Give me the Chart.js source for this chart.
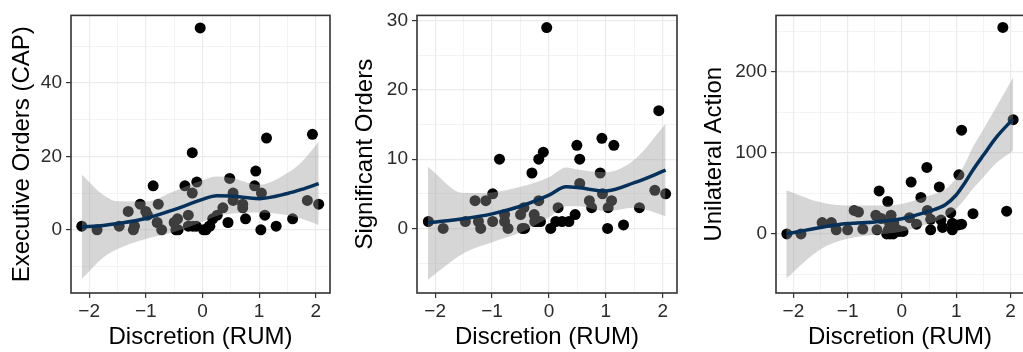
<!doctype html>
<html>
<head>
<title>Discretion (RUM)</title>
<script src="https://cdn.jsdelivr.net/npm/chart.js"></script>
<style>
  body { margin: 0; background: #fff; overflow: hidden; }
  .panel { position: absolute; top: 0; height: 352px; }
</style>
</head>
<body>

<div class="panel" style="left:0px; width:336px;"><canvas id="eo"></canvas></div>
<div class="panel" style="left:338px; width:345px;"><canvas id="so"></canvas></div>
<div class="panel" style="left:690px; width:340px;"><canvas id="ua"></canvas></div>

<script>
// shared x axis
const rumTicks = [-2, -1.5, -1, -0.5, 0, 0.5, 1, 1.5, 2];
const rumLabels = [-2, -1, 0, 1, 2];

// Executive Orders (CAP)
const eoRum = [-2.13, -1.86, -1.47, -1.31, -1.22, -1.2, -1.1, -1.0, -0.97, -0.87, -0.78, -0.8, -0.72,
  -0.5, -0.44, -0.47, -0.43, -0.31, -0.25, -0.25, -0.18, -0.18, -0.17, -0.11, -0.1, -0.04,
  0.02, 0.06, 0.12, 0.13, 0.18, 0.26, 0.36, 0.45, 0.48, 0.54, 0.54, 0.71, 0.71, 0.76,
  0.92, 0.94, 1.04, 1.03, 1.1, 1.13, 1.3, 1.59, 1.85, 1.94, 2.05];
const eoCount = [1, 0, 1, 5, 0, 1, 7, 5, 4, 12, 7, 2, 0,
  2, 3, 0, 0, 12, 4, 1, 10, 21, 1, 1, 13, 55,
  0, 0, 1, 1, 3, 4, 6, 2, 14, 10, 8, 7, 6, 3,
  12, 16, 10, 0, 4, 25, 1, 3, 8, 26, 7];
const eoFitX = [-2.13, -1.75, -1.5, -1, -0.5, 0, 0.25, 0.5, 1, 1.5, 1.75, 2.05];
const eoFit = [0.8, 1.2, 1.7, 3.1, 5.5, 8.3, 9.3, 9.2, 8.5, 9.9, 11, 12.6];
const eoUpper = [15, 9.5, 7.8, 7.7, 10.5, 13.5, 14.5, 14.2, 12.3, 15.5, 18.5, 24];
const eoLower = [-13.4, -7.5, -5.2, -2.5, -0.6, 2.2, 3.8, 4.4, 4.7, 4, 3, 1.3];
const eoTicks = [-10, 0, 10, 20, 30, 40, 50];
const eoLabels = [0, 20, 40];

// Significant Orders
const soRum = [-2.12, -1.86, -1.47, -1.3, -1.24, -1.2, -1.11, -0.99, -0.99, -0.87, -0.78, -0.78, -0.72,
  -0.5, -0.44, -0.47, -0.43, -0.3, -0.26, -0.18, -0.18, -0.1, -0.25, -0.2, -0.15, -0.04,
  0.03, 0.12, 0.16, 0.23, 0.35, 0.46, 0.49, 0.54, 0.54, 0.71, 0.75, 0.9, 0.93, 0.94,
  1.04, 1.03, 1.1, 1.14, 1.31, 1.59, 1.86, 1.93, 2.05];
const soCount = [1, 0, 1, 4, 1, 0, 4, 5, 1, 10, 1, 2, 0,
  2, 3, 0, 0, 8, 2, 4, 10, 11, 1, 1, 1, 29,
  0, 1, 3, 1, 1, 2, 12, 10, 6.5, 4, 3, 8, 13, 5,
  3, 0, 4, 12, 0.5, 3, 5.5, 17, 5];
const soFitX = [-2.13, -1.5, -1, -0.5, 0, 0.3, 0.5, 1, 1.5, 2.05];
const soFit = [0.8, 1.4, 2.1, 3.2, 4.8, 6.0, 5.9, 5.4, 6.6, 8.4];
const soUpper = [8.9, 5.1, 5.2, 6.0, 7.4, 8.8, 8.5, 8.1, 9.9, 15.1];
const soLower = [-7.4, -3.6, -2.0, -0.6, 1.6, 3.2, 3.2, 2.5, 3.0, 1.8];
const soTicks = [-5, 0, 5, 10, 15, 20, 25, 30];
const soLabels = [0, 10, 20, 30];

// Unilateral Action
const uaRum = [-2.12, -1.86, -1.47, -1.3, -1.21, -1.0, -0.88, -0.8, -0.72, -0.48, -0.46, -0.42, -0.38,
  -0.26, -0.22, -0.28, -0.16, -0.2, -0.23, -0.15, -0.25, -0.08, -0.05, 0.02, 0.17, 0.14,
  0.27, 0.35, 0.46, 0.47, 0.53, 0.53, 0.69, 0.72, 0.75, 0.9, 0.93, 0.93, 1.05, 1.04,
  1.1, 1.1, 1.31, 1.86, 1.93, 2.05];
const uaCount = [0, 0, 14, 14, 5, 5, 29, 27, 6, 23, 5, 53, 19,
  40, 0, 0, 0, 23, 14, 14, 5, 5, 3, 3, 64, 20,
  12, 45, 82, 29, 5, 18, 58, 17, 8, 26, 13, 5, 73, 11,
  12, 128, 25, 255, 28, 141];
const uaFitX = [-2.13, -1.5, -1, -0.5, 0, 0.5, 0.8, 1, 1.15, 1.3, 1.5, 1.75, 2.05];
const uaFit = [0, 8, 12.8, 14.8, 18.8, 28, 36, 48, 62, 78, 97, 120, 142];
const uaUpper = [54, 39, 35, 35, 37, 47, 55, 69, 85, 106, 129, 158, 193];
const uaLower = [-55, -19, -6, -1.2, 2.8, 12.8, 21, 31, 42, 55, 70, 88, 103];
const uaTicks = [-50, 0, 50, 100, 150, 200, 250];
const uaLabels = [0, 100, 200];

Chart.defaults.font.family = "'Liberation Sans', Arial, sans-serif";

function pts(xs, ys) {
  return xs.map((x, i) => ({ x: x, y: ys[i] }));
}

function minus(v) {
  return String(v).replace('-', '\u2212');
}

const panelBorder = {
  id: 'panelBorder',
  afterDraw(chart) {
    const a = chart.chartArea, ctx = chart.ctx;
    ctx.save();
    ctx.strokeStyle = '#333333';
    ctx.lineWidth = 1.6;
    ctx.strokeRect(a.left, a.top, a.right - a.left, a.bottom - a.top);
    ctx.restore();
  }
};

function makePanel(id, p) {
  new Chart(document.getElementById(id), {
    type: 'scatter',
    data: {
      datasets: [
        {
          data: pts(p.fitX, p.fit),
          showLine: true,
          borderColor: '#06315A',
          borderWidth: 3.5,
          pointRadius: 0,
          cubicInterpolationMode: 'monotone',
          order: 0
        },
        {
          // ribbon drawn over the points, like ggplot
          data: pts(p.fitX, p.upper),
          showLine: true,
          borderWidth: 0,
          borderColor: 'rgba(0,0,0,0)',
          backgroundColor: 'rgba(153,153,153,0.4)',
          fill: '+1',
          pointRadius: 0,
          cubicInterpolationMode: 'monotone',
          order: 1
        },
        {
          data: pts(p.fitX, p.lower),
          showLine: true,
          borderWidth: 0,
          borderColor: 'rgba(0,0,0,0)',
          pointRadius: 0,
          cubicInterpolationMode: 'monotone',
          order: 2
        },
        {
          data: pts(p.x, p.y),
          pointRadius: 5.5,
          pointBackgroundColor: '#000',
          pointBorderWidth: 0,
          order: 3
        }
      ]
    },
    options: {
      responsive: true,
      maintainAspectRatio: false,
      animation: false,
      events: [],
      layout: { padding: { top: 8, right: 6, left: 0, bottom: 0 } },
      plugins: {
        legend: { display: false },
        tooltip: { enabled: false },
        filler: { drawTime: 'beforeDatasetDraw' }
      },
      scales: {
        x: {
          type: 'linear',
          min: -2.32,
          max: 2.25,
          afterBuildTicks: (s) => { s.ticks = rumTicks.map(v => ({ value: v })); },
          afterFit: (s) => { s.height = 59; },
          border: { display: false },
          grid: {
            color: '#EBEBEB',
            lineWidth: (c) => rumLabels.includes(c.tick.value) ? 1.2 : 0.6,
            tickColor: (c) => rumLabels.includes(c.tick.value) ? '#333333' : 'rgba(0,0,0,0)',
            tickLength: 5,
            tickWidth: 1.2
          },
          ticks: {
            autoSkip: false,
            maxRotation: 0,
            padding: 2,
            color: '#2b2b2b',
            font: { size: 19 },
            callback: (v) => rumLabels.includes(v) ? minus(v) : ''
          },
          title: {
            display: true,
            text: 'Discretion (RUM)',
            color: '#000',
            font: { size: 24 },
            padding: { top: 0, bottom: 0 }
          }
        },
        y: {
          min: p.min,
          max: p.max,
          afterBuildTicks: (s) => { s.ticks = p.ticks.map(v => ({ value: v })); },
          afterFit: (s) => { s.width = p.axisWidth; },
          border: { display: false },
          grid: {
            color: '#EBEBEB',
            lineWidth: (c) => p.labels.includes(c.tick.value) ? 1.2 : 0.6,
            tickColor: (c) => p.labels.includes(c.tick.value) ? '#333333' : 'rgba(0,0,0,0)',
            tickLength: 5,
            tickWidth: 1.2
          },
          ticks: {
            autoSkip: false,
            padding: 4,
            color: '#2b2b2b',
            font: { size: 19 },
            callback: (v) => p.labels.includes(v) ? minus(v) : ''
          },
          title: {
            display: true,
            text: p.title,
            color: '#000',
            font: { size: 24 },
            padding: { top: p.titlePad, bottom: 0 }
          }
        }
      }
    },
    plugins: [panelBorder]
  });
}

makePanel('eo', {
  x: eoRum, y: eoCount, fitX: eoFitX, fit: eoFit, upper: eoUpper, lower: eoLower,
  ticks: eoTicks, labels: eoLabels, min: -17.2, max: 58.4,
  title: 'Executive Orders (CAP)', axisWidth: 71, titlePad: 8
});
makePanel('so', {
  x: soRum, y: soCount, fitX: soFitX, fit: soFit, upper: soUpper, lower: soLower,
  ticks: soTicks, labels: soLabels, min: -9.32, max: 30.75,
  title: 'Significant Orders', axisWidth: 79, titlePad: 12.5
});
makePanel('ua', {
  x: uaRum, y: uaCount, fitX: uaFitX, fit: uaFit, upper: uaUpper, lower: uaLower,
  ticks: uaTicks, labels: uaLabels, min: -73, max: 269.8,
  title: 'Unilateral Action', axisWidth: 86, titlePad: 9.5
});
</script>
</body>
</html>
